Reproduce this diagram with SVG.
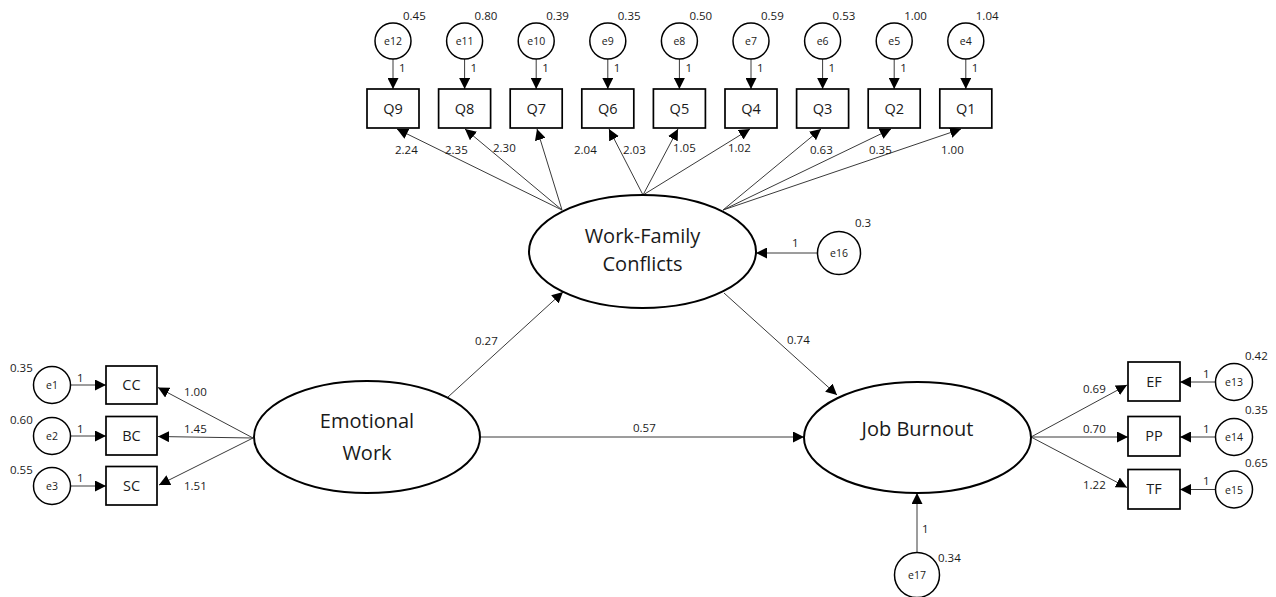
<svg xmlns="http://www.w3.org/2000/svg" width="1276" height="597" viewBox="0 0 1276 597">
<style>
text{font-family:"Open Sans","Noto Sans","Liberation Sans",sans-serif;fill:#1a1a1a}
.lat{fill:#fff;stroke:#000;stroke-width:2}
.box{fill:#fff;stroke:#000;stroke-width:1.7}
.err{fill:#fff;stroke:#000;stroke-width:1.5}
.big{font-size:20px;text-anchor:middle}
.bl{font-size:14.5px;text-anchor:middle}
.el{font-size:10.5px;text-anchor:middle}
.n{font-size:11.5px}
.c line{stroke:#3a3a3a;stroke-width:1;marker-end:url(#ah)}
</style>
<defs>
<marker id="ah" markerWidth="11" markerHeight="11" refX="11" refY="5.5" orient="auto" markerUnits="userSpaceOnUse"><path d="M0,0 L11,5.5 L0,11 z" fill="#000"/></marker>
</defs>
<rect width="1276" height="597" fill="#fff"/>

<g class="c" id="connectors">
<line x1="393" y1="59" x2="393" y2="89"/>
<line x1="464.6" y1="59" x2="464.6" y2="89"/>
<line x1="536.2" y1="59" x2="536.2" y2="89"/>
<line x1="607.8" y1="59" x2="607.8" y2="89"/>
<line x1="679.4" y1="59" x2="679.4" y2="89"/>
<line x1="751" y1="59" x2="751" y2="89"/>
<line x1="822.6" y1="59" x2="822.6" y2="89"/>
<line x1="894.2" y1="59" x2="894.2" y2="89"/>
<line x1="965.8" y1="59" x2="965.8" y2="89"/>
<line x1="562" y1="210" x2="397" y2="129"/>
<line x1="562" y1="210" x2="465" y2="129"/>
<line x1="562" y1="210" x2="537" y2="129"/>
<line x1="643" y1="195" x2="609" y2="129"/>
<line x1="643" y1="195" x2="678" y2="129"/>
<line x1="643" y1="195" x2="750" y2="129"/>
<line x1="723" y1="210" x2="821" y2="129"/>
<line x1="723" y1="210" x2="891" y2="129"/>
<line x1="723" y1="210" x2="961" y2="129"/>
<line x1="817" y1="253" x2="756" y2="253"/>
<line x1="448" y1="397" x2="563" y2="292"/>
<line x1="724" y1="293" x2="837" y2="395"/>
<line x1="480" y1="437" x2="804" y2="437"/>
<line x1="917" y1="552.5" x2="917" y2="493"/>
<line x1="253" y1="438" x2="158" y2="387.5"/>
<line x1="253" y1="438" x2="158" y2="436.5"/>
<line x1="253" y1="438" x2="159" y2="485"/>
<line x1="70.5" y1="385" x2="106" y2="385"/>
<line x1="70.5" y1="436" x2="106" y2="436"/>
<line x1="70.5" y1="486" x2="106" y2="486"/>
<line x1="1031" y1="437" x2="1127" y2="385"/>
<line x1="1031" y1="437" x2="1128" y2="437"/>
<line x1="1031" y1="437" x2="1127" y2="487.5"/>
<line x1="1215.5" y1="382" x2="1180" y2="382"/>
<line x1="1215.5" y1="437" x2="1180" y2="437"/>
<line x1="1215.5" y1="489.5" x2="1180" y2="489.5"/>
</g>

<g id="labels" class="n">
<text x="399" y="72">1</text><text x="470.6" y="72">1</text><text x="542.2" y="72">1</text><text x="613.8" y="72">1</text><text x="685.4" y="72">1</text><text x="757" y="72">1</text><text x="828.6" y="72">1</text><text x="900.2" y="72">1</text><text x="971.8" y="72">1</text>
<text x="395" y="154">2.24</text><text x="445" y="154">2.35</text><text x="493" y="152">2.30</text><text x="574" y="154">2.04</text><text x="623" y="154">2.03</text><text x="673" y="152">1.05</text><text x="728" y="152">1.02</text><text x="810" y="154">0.63</text><text x="869" y="154">0.35</text><text x="941" y="154">1.00</text>
<text x="792" y="247">1</text>
<text x="475" y="345">0.27</text><text x="787" y="344">0.74</text><text x="633" y="432">0.57</text>
<text x="922" y="533">1</text>
<text x="184" y="396">1.00</text><text x="184" y="433">1.45</text><text x="184" y="490">1.51</text>
<text x="77" y="382">1</text><text x="77" y="433">1</text><text x="77" y="482">1</text>
<text x="1083" y="393">0.69</text><text x="1083" y="433">0.70</text><text x="1083" y="489">1.22</text>
<text x="1203" y="378">1</text><text x="1203" y="433">1</text><text x="1203" y="485">1</text>
</g>

<g id="WFC"><ellipse class="lat" cx="642.5" cy="251.5" rx="113.5" ry="56.5"/><text class="big" x="642.5" y="243">Work-Family</text><text class="big" x="642.5" y="271">Conflicts</text></g>
<g id="EW"><ellipse class="lat" cx="367" cy="437" rx="113" ry="56"/><text class="big" x="367" y="428">Emotional</text><text class="big" x="367" y="460">Work</text></g>
<g id="JB"><ellipse class="lat" cx="917.5" cy="437.5" rx="113.5" ry="55.5"/><text class="big" x="917.5" y="436">Job Burnout</text></g>

<g id="Q9"><rect class="box" x="367" y="89" width="52" height="39"/><text class="bl" x="393" y="113.5">Q9</text></g>
<g id="Q8"><rect class="box" x="438.6" y="89" width="52" height="39"/><text class="bl" x="464.6" y="113.5">Q8</text></g>
<g id="Q7"><rect class="box" x="510.2" y="89" width="52" height="39"/><text class="bl" x="536.2" y="113.5">Q7</text></g>
<g id="Q6"><rect class="box" x="581.8" y="89" width="52" height="39"/><text class="bl" x="607.8" y="113.5">Q6</text></g>
<g id="Q5"><rect class="box" x="653.4" y="89" width="52" height="39"/><text class="bl" x="679.4" y="113.5">Q5</text></g>
<g id="Q4"><rect class="box" x="725" y="89" width="52" height="39"/><text class="bl" x="751" y="113.5">Q4</text></g>
<g id="Q3"><rect class="box" x="796.6" y="89" width="52" height="39"/><text class="bl" x="822.6" y="113.5">Q3</text></g>
<g id="Q2"><rect class="box" x="868.2" y="89" width="52" height="39"/><text class="bl" x="894.2" y="113.5">Q2</text></g>
<g id="Q1"><rect class="box" x="939.8" y="89" width="52" height="39"/><text class="bl" x="965.8" y="113.5">Q1</text></g>

<g id="e12"><circle class="err" cx="393" cy="41" r="18"/><text class="el" x="393" y="45">e12</text><text class="n" x="403" y="20">0.45</text></g>
<g id="e11"><circle class="err" cx="464.6" cy="41" r="18"/><text class="el" x="464.6" y="45">e11</text><text class="n" x="474.6" y="20">0.80</text></g>
<g id="e10"><circle class="err" cx="536.2" cy="41" r="18"/><text class="el" x="536.2" y="45">e10</text><text class="n" x="546.2" y="20">0.39</text></g>
<g id="e9"><circle class="err" cx="607.8" cy="41" r="18"/><text class="el" x="607.8" y="45">e9</text><text class="n" x="617.8" y="20">0.35</text></g>
<g id="e8"><circle class="err" cx="679.4" cy="41" r="18"/><text class="el" x="679.4" y="45">e8</text><text class="n" x="689.4" y="20">0.50</text></g>
<g id="e7"><circle class="err" cx="751" cy="41" r="18"/><text class="el" x="751" y="45">e7</text><text class="n" x="761" y="20">0.59</text></g>
<g id="e6"><circle class="err" cx="822.6" cy="41" r="18"/><text class="el" x="822.6" y="45">e6</text><text class="n" x="832.6" y="20">0.53</text></g>
<g id="e5"><circle class="err" cx="894.2" cy="41" r="18"/><text class="el" x="894.2" y="45">e5</text><text class="n" x="904.2" y="20">1.00</text></g>
<g id="e4"><circle class="err" cx="965.8" cy="41" r="18"/><text class="el" x="965.8" y="45">e4</text><text class="n" x="975.8" y="20">1.04</text></g>

<g id="e16"><circle class="err" cx="839" cy="253" r="21.5"/><text class="el" x="839" y="257">e16</text><text class="n" x="855" y="227">0.3</text></g>
<g id="e17"><circle class="err" cx="917" cy="575" r="22.5"/><text class="el" x="917" y="579">e17</text><text class="n" x="938" y="562">0.34</text></g>

<g id="CC"><rect class="box" x="106" y="366" width="51" height="38"/><text class="bl" x="131.5" y="390">CC</text></g>
<g id="BC"><rect class="box" x="106" y="416.5" width="51" height="38.5"/><text class="bl" x="131.5" y="441">BC</text></g>
<g id="SC"><rect class="box" x="106" y="466.5" width="51" height="38.5"/><text class="bl" x="131.5" y="491">SC</text></g>
<g id="e1"><circle class="err" cx="52" cy="385" r="18.5"/><text class="el" x="52" y="389">e1</text><text class="n" x="10" y="372">0.35</text></g>
<g id="e2"><circle class="err" cx="52" cy="436" r="18.5"/><text class="el" x="52" y="440">e2</text><text class="n" x="10" y="424">0.60</text></g>
<g id="e3"><circle class="err" cx="52" cy="486" r="18.5"/><text class="el" x="52" y="490">e3</text><text class="n" x="10" y="474">0.55</text></g>

<g id="EF"><rect class="box" x="1128" y="362" width="52" height="39"/><text class="bl" x="1154" y="386.5">EF</text></g>
<g id="PP"><rect class="box" x="1128" y="416.5" width="52" height="39.5"/><text class="bl" x="1154" y="441">PP</text></g>
<g id="TF"><rect class="box" x="1128" y="469.5" width="52" height="39.5"/><text class="bl" x="1154" y="494">TF</text></g>
<g id="e13"><circle class="err" cx="1234" cy="382" r="18.5"/><text class="el" x="1234" y="386">e13</text><text class="n" x="1245" y="360">0.42</text></g>
<g id="e14"><circle class="err" cx="1234" cy="437" r="18.5"/><text class="el" x="1234" y="441">e14</text><text class="n" x="1245" y="414">0.35</text></g>
<g id="e15"><circle class="err" cx="1234" cy="489.5" r="18.5"/><text class="el" x="1234" y="493.5">e15</text><text class="n" x="1245" y="467">0.65</text></g>
</svg>
